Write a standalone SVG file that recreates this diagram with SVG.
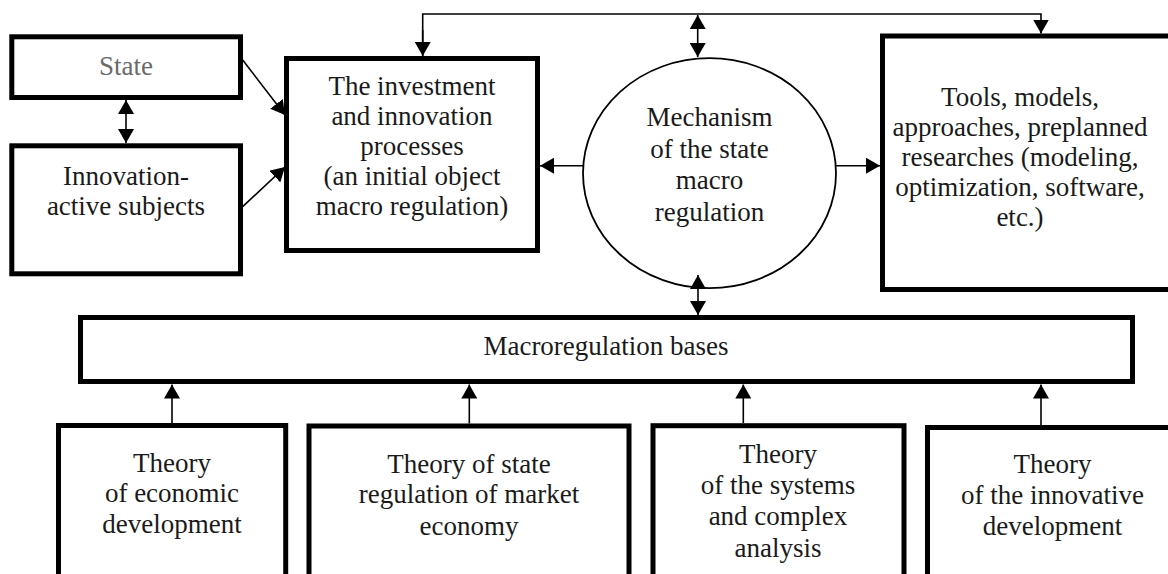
<svg xmlns="http://www.w3.org/2000/svg" width="1168" height="574" viewBox="0 0 1168 574">
<style>
.box{fill:#fff;stroke:#000;stroke-width:5}
.ell{fill:#fff;stroke:#000;stroke-width:1.8}
.t{font-family:"Liberation Serif","Times New Roman",serif;font-size:27px;fill:#1a1a1a;text-anchor:middle}
.g{fill:#6a6a6a}
.ln{fill:none;stroke:#000;stroke-width:1.6}
.a{marker-end:url(#ah)}
.d{marker-start:url(#ah);marker-end:url(#ah)}
</style>
<defs>
<marker id="ah" markerUnits="userSpaceOnUse" markerWidth="14" markerHeight="16" refX="14" refY="8" orient="auto-start-reverse" viewBox="0 0 14 16">
<path d="M0,0 L14,8 L0,16 z" fill="#000"/>
</marker>
</defs>
<rect width="1168" height="574" fill="#fff"/>

<g id="state">
<rect class="box" x="11.8" y="36.8" width="228.7" height="60.7"/>
<text class="t g" x="126" y="75">State</text>
</g>

<g id="innovation-active">
<rect class="box" x="11.8" y="145.8" width="228.7" height="128"/>
<text class="t" x="126" y="185">Innovation-</text>
<text class="t" x="126" y="215">active subjects</text>
</g>

<g id="processes">
<rect class="box" x="286.5" y="58.5" width="251" height="192"/>
<text class="t" x="412" y="95">The investment</text>
<text class="t" x="412" y="125">and innovation</text>
<text class="t" x="412" y="155">processes</text>
<text class="t" x="412" y="185">(an initial object</text>
<text class="t" x="412" y="215">macro regulation)</text>
</g>

<g id="mechanism">
<ellipse class="ell" cx="709.5" cy="173.2" rx="126.5" ry="115"/>
<text class="t" x="709.5" y="126">Mechanism</text>
<text class="t" x="709.5" y="157.5">of the state</text>
<text class="t" x="709.5" y="189">macro</text>
<text class="t" x="709.5" y="220.5">regulation</text>
</g>

<g id="tools">
<rect class="box" x="882.5" y="36" width="295" height="253.5"/>
<text class="t" x="1020" y="106">Tools, models,</text>
<text class="t" x="1020" y="135.5">approaches, preplanned</text>
<text class="t" x="1020" y="165.5">researches (modeling,</text>
<text class="t" x="1020" y="195.5">optimization, software,</text>
<text class="t" x="1020" y="225.5">etc.)</text>
</g>

<g id="bases">
<rect class="box" x="80.5" y="317.5" width="1052" height="64"/>
<text class="t" x="606" y="355">Macroregulation bases</text>
</g>

<g id="theory-economic">
<rect class="box" x="58.5" y="425.5" width="227.2" height="170"/>
<text class="t" x="172" y="471.7">Theory</text>
<text class="t" x="172" y="502.3">of economic</text>
<text class="t" x="172" y="533.3">development</text>
</g>

<g id="theory-state">
<rect class="box" x="309" y="426" width="320" height="170"/>
<text class="t" x="469" y="472.7">Theory of state</text>
<text class="t" x="469" y="503.3">regulation of market</text>
<text class="t" x="469" y="534.5">economy</text>
</g>

<g id="theory-systems">
<rect class="box" x="653" y="425.7" width="251" height="170"/>
<text class="t" x="778" y="463.3">Theory</text>
<text class="t" x="778" y="493.8">of the systems</text>
<text class="t" x="778" y="525">and complex</text>
<text class="t" x="778" y="556.5">analysis</text>
</g>

<g id="theory-innovative">
<rect class="box" x="927.5" y="427.5" width="250" height="170"/>
<text class="t" x="1052.5" y="473.3">Theory</text>
<text class="t" x="1052.5" y="503.8">of the innovative</text>
<text class="t" x="1052.5" y="535">development</text>
</g>

<g id="connectors">
<line class="ln a" x1="242.7" y1="60" x2="285" y2="115"/>
<line class="ln a" x1="242.7" y1="206.7" x2="285" y2="167"/>
<line class="ln d" x1="126" y1="100" x2="126" y2="143"/>
<polyline class="ln" points="422.7,56 422.7,14 1041,14 1041,33"/>
<line class="ln a" x1="422.7" y1="30" x2="422.7" y2="56"/>
<line class="ln a" x1="1041" y1="20" x2="1041" y2="33.5"/>
<line class="ln d" x1="697.7" y1="15" x2="697.7" y2="57"/>
<line class="ln a" x1="583" y1="165.7" x2="540" y2="165.7"/>
<line class="ln a" x1="836" y1="165.7" x2="880" y2="165.7"/>
<line class="ln d" x1="698" y1="275" x2="698" y2="315"/>
<line class="ln a" x1="172" y1="423" x2="172" y2="384.5"/>
<line class="ln a" x1="469.3" y1="423.5" x2="469.3" y2="384.5"/>
<line class="ln a" x1="743.3" y1="423" x2="743.3" y2="384.5"/>
<line class="ln a" x1="1041" y1="425" x2="1041" y2="384.5"/>
</g>
</svg>
